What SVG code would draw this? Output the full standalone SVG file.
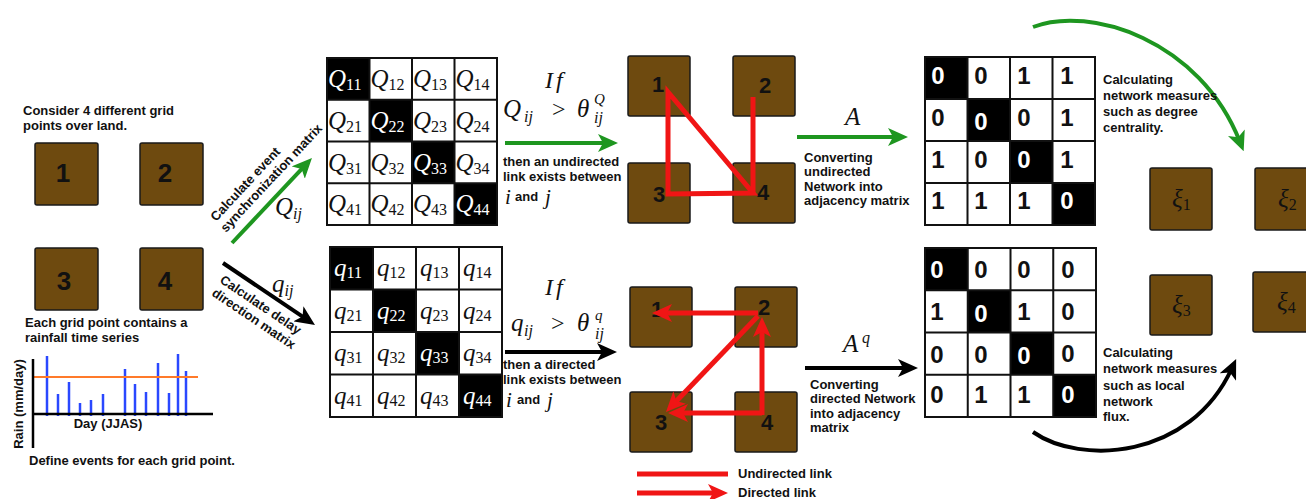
<svg xmlns="http://www.w3.org/2000/svg" width="1306" height="499" viewBox="0 0 1306 499">
<defs>
<style>
.t{font-family:"Liberation Sans",Arial,sans-serif;font-weight:bold;font-size:13px;fill:#111}
.m{font-family:"Liberation Serif","Times New Roman",serif;font-style:italic;fill:#111}
.r{font-family:"Liberation Serif","Times New Roman",serif;fill:#111}
.box{fill:#6E4A0F;stroke:#1a1a1a;stroke-width:1.5}
.num{font-family:"Liberation Sans",Arial,sans-serif;font-weight:bold;fill:#111;text-anchor:middle}
.grid{fill:none;stroke:#111;stroke-width:2}
.dk{fill:#000}
.wt{fill:#fff}
.red{stroke:#F01515;stroke-width:5;fill:none}
.bar{stroke:#2A48FF;stroke-width:2.5}
</style>
<marker id="mg" viewBox="0 0 20 18" refX="10" refY="9" markerWidth="20" markerHeight="18" markerUnits="userSpaceOnUse" orient="auto"><path d="M0,0 L20,9 L0,18 L5,9 Z" fill="#1E9620"/></marker>
<marker id="mk" viewBox="0 0 20 18" refX="10" refY="9" markerWidth="20" markerHeight="18" markerUnits="userSpaceOnUse" orient="auto"><path d="M0,0 L20,9 L0,18 L5,9 Z" fill="#000"/></marker>
<marker id="mr" viewBox="0 0 20 18" refX="10" refY="9" markerWidth="20" markerHeight="18" markerUnits="userSpaceOnUse" orient="auto"><path d="M0,0 L20,9 L0,18 L5,9 Z" fill="#F01515"/></marker>
</defs>
<rect width="1306" height="499" fill="#fff"/>

<!-- Left: grid points -->
<g id="intro">
<text class="t" x="23" y="115">Consider 4 different grid</text>
<text class="t" x="23" y="130">points over land.</text>
</g>
<g id="g1"><rect class="box" x="35" y="143" width="63" height="62" rx="2"/><text class="num" x="63" y="182" font-size="26">1</text></g>
<g id="g2"><rect class="box" x="140" y="143" width="63" height="62" rx="2"/><text class="num" x="165" y="182" font-size="26">2</text></g>
<g id="g3"><rect class="box" x="35" y="248" width="63" height="62" rx="2"/><text class="num" x="64" y="290" font-size="26">3</text></g>
<g id="g4"><rect class="box" x="140" y="248" width="63" height="62" rx="2"/><text class="num" x="165" y="290" font-size="26">4</text></g>

<g id="timeseries">
<text class="t" x="25" y="327">Each grid point contains a</text>
<text class="t" x="25" y="342">rainfall time series</text>
<g class="bar">
<line x1="47" y1="356" x2="47" y2="416"/>
<line x1="58" y1="394" x2="58" y2="416"/>
<line x1="69" y1="382" x2="69" y2="416"/>
<line x1="80" y1="403" x2="80" y2="416"/>
<line x1="91" y1="400" x2="91" y2="416"/>
<line x1="103" y1="394" x2="103" y2="416"/>
<line x1="125" y1="369" x2="125" y2="416"/>
<line x1="135" y1="384" x2="135" y2="416"/>
<line x1="146" y1="392" x2="146" y2="416"/>
<line x1="158" y1="363" x2="158" y2="416"/>
<line x1="169" y1="393" x2="169" y2="416"/>
<line x1="178" y1="354" x2="178" y2="416"/>
<line x1="186" y1="371" x2="186" y2="416"/>
</g>
<line x1="33" y1="377" x2="198" y2="377" stroke="#FF7A2A" stroke-width="2"/>
<line x1="33" y1="359" x2="33" y2="448" stroke="#000" stroke-width="2.5"/>
<line x1="33" y1="414" x2="213" y2="414" stroke="#000" stroke-width="2.5"/>
<text class="t" x="108" y="428" font-size="10.5" text-anchor="middle">Day (JJAS)</text>
<text class="t" font-size="10" text-anchor="middle" transform="translate(23,404) rotate(-90)">Rain (mm/day)</text>
<text class="t" x="29" y="465">Define events for each grid point.</text>
</g>

<!-- Q matrix -->
<g id="Qmatrix">
<rect x="327" y="58" width="170" height="167" fill="#fff"/>
<rect class="dk" x="327" y="58" width="42.5" height="41.75"/>
<rect class="dk" x="369.5" y="99.75" width="42.5" height="41.75"/>
<rect class="dk" x="412" y="141.5" width="42.5" height="41.75"/>
<rect class="dk" x="454.5" y="183.25" width="42.5" height="41.75"/>
<path class="grid" d="M327,58H497V225H327Z M369.5,58V225 M412,58V225 M454.5,58V225 M327,99.75H497 M327,141.5H497 M327,183.25H497"/>
<g font-size="25">
<text class="m wt" x="328" y="87">Q<tspan class="r wt" font-style="normal" font-size="16" dy="3">11</tspan></text>
<text class="m" x="370.5" y="87">Q<tspan class="r" font-style="normal" font-size="16" dy="3">12</tspan></text>
<text class="m" x="413" y="87">Q<tspan class="r" font-style="normal" font-size="16" dy="3">13</tspan></text>
<text class="m" x="455.5" y="87">Q<tspan class="r" font-style="normal" font-size="16" dy="3">14</tspan></text>
<text class="m" x="328" y="128.75">Q<tspan class="r" font-style="normal" font-size="16" dy="3">21</tspan></text>
<text class="m wt" x="370.5" y="128.75">Q<tspan class="r wt" font-style="normal" font-size="16" dy="3">22</tspan></text>
<text class="m" x="413" y="128.75">Q<tspan class="r" font-style="normal" font-size="16" dy="3">23</tspan></text>
<text class="m" x="455.5" y="128.75">Q<tspan class="r" font-style="normal" font-size="16" dy="3">24</tspan></text>
<text class="m" x="328" y="170.5">Q<tspan class="r" font-style="normal" font-size="16" dy="3">31</tspan></text>
<text class="m" x="370.5" y="170.5">Q<tspan class="r" font-style="normal" font-size="16" dy="3">32</tspan></text>
<text class="m wt" x="413" y="170.5">Q<tspan class="r wt" font-style="normal" font-size="16" dy="3">33</tspan></text>
<text class="m" x="455.5" y="170.5">Q<tspan class="r" font-style="normal" font-size="16" dy="3">34</tspan></text>
<text class="m" x="328" y="212.25">Q<tspan class="r" font-style="normal" font-size="16" dy="3">41</tspan></text>
<text class="m" x="370.5" y="212.25">Q<tspan class="r" font-style="normal" font-size="16" dy="3">42</tspan></text>
<text class="m" x="413" y="212.25">Q<tspan class="r" font-style="normal" font-size="16" dy="3">43</tspan></text>
<text class="m wt" x="455.5" y="212.25">Q<tspan class="r wt" font-style="normal" font-size="16" dy="3">44</tspan></text>
</g>
</g>

<!-- q matrix -->
<g id="qmatrix">
<rect x="330" y="247" width="172" height="170" fill="#fff"/>
<rect class="dk" x="330" y="247" width="43" height="42.5"/>
<rect class="dk" x="373" y="289.5" width="43" height="42.5"/>
<rect class="dk" x="416" y="332" width="43" height="42.5"/>
<rect class="dk" x="459" y="374.5" width="43" height="42.5"/>
<path class="grid" d="M330,247H502V417H330Z M373,247V417 M416,247V417 M459,247V417 M330,289.5H502 M330,332H502 M330,374.5H502"/>
<g font-size="25">
<text class="m wt" x="334" y="276">q<tspan class="r wt" font-style="normal" font-size="16" dy="2">11</tspan></text>
<text class="m" x="377" y="276">q<tspan class="r" font-style="normal" font-size="16" dy="2">12</tspan></text>
<text class="m" x="420" y="276">q<tspan class="r" font-style="normal" font-size="16" dy="2">13</tspan></text>
<text class="m" x="463" y="276">q<tspan class="r" font-style="normal" font-size="16" dy="2">14</tspan></text>
<text class="m" x="334" y="318.5">q<tspan class="r" font-style="normal" font-size="16" dy="2">21</tspan></text>
<text class="m wt" x="377" y="318.5">q<tspan class="r wt" font-style="normal" font-size="16" dy="2">22</tspan></text>
<text class="m" x="420" y="318.5">q<tspan class="r" font-style="normal" font-size="16" dy="2">23</tspan></text>
<text class="m" x="463" y="318.5">q<tspan class="r" font-style="normal" font-size="16" dy="2">24</tspan></text>
<text class="m" x="334" y="361">q<tspan class="r" font-style="normal" font-size="16" dy="2">31</tspan></text>
<text class="m" x="377" y="361">q<tspan class="r" font-style="normal" font-size="16" dy="2">32</tspan></text>
<text class="m wt" x="420" y="361">q<tspan class="r wt" font-style="normal" font-size="16" dy="2">33</tspan></text>
<text class="m" x="463" y="361">q<tspan class="r" font-style="normal" font-size="16" dy="2">34</tspan></text>
<text class="m" x="334" y="403.5">q<tspan class="r" font-style="normal" font-size="16" dy="2">41</tspan></text>
<text class="m" x="377" y="403.5">q<tspan class="r" font-style="normal" font-size="16" dy="2">42</tspan></text>
<text class="m" x="420" y="403.5">q<tspan class="r" font-style="normal" font-size="16" dy="2">43</tspan></text>
<text class="m wt" x="463" y="403.5">q<tspan class="r wt" font-style="normal" font-size="16" dy="2">44</tspan></text>
</g>
</g>

<!-- Undirected network -->
<g id="u1"><rect class="box" x="628" y="56" width="62" height="60" rx="2"/><text class="num" x="658" y="92" font-size="22">1</text></g>
<g id="u2"><rect class="box" x="733" y="56" width="62" height="60" rx="2"/><text class="num" x="765" y="93" font-size="22">2</text></g>
<g id="u3"><rect class="box" x="628" y="163" width="62" height="60" rx="2"/><text class="num" x="659" y="202" font-size="22">3</text></g>
<g id="u4"><rect class="box" x="733" y="163" width="62" height="60" rx="2"/><text class="num" x="763" y="200" font-size="22">4</text></g>

<!-- Directed network -->
<g id="d1"><rect class="box" x="630" y="287" width="62" height="60" rx="2"/><text class="num" x="657" y="317" font-size="22">1</text></g>
<g id="d2"><rect class="box" x="735" y="287" width="62" height="60" rx="2"/><text class="num" x="764" y="315" font-size="22">2</text></g>
<g id="d3"><rect class="box" x="630" y="392" width="62" height="60" rx="2"/><text class="num" x="661" y="430" font-size="22">3</text></g>
<g id="d4"><rect class="box" x="735" y="392" width="62" height="60" rx="2"/><text class="num" x="767" y="430" font-size="22">4</text></g>

<!-- Adjacency matrix A -->
<g id="Amatrix">
<rect x="925" y="57" width="170" height="168" fill="#fff"/>
<rect class="dk" x="925" y="57" width="42.5" height="42"/>
<rect class="dk" x="967.5" y="99" width="42.5" height="42"/>
<rect class="dk" x="1010" y="141" width="42.5" height="42"/>
<rect class="dk" x="1052.5" y="183" width="42.5" height="42"/>
<path class="grid" d="M925,57H1095V225H925Z M967.5,57V225 M1010,57V225 M1052.5,57V225 M925,99H1095 M925,141H1095 M925,183H1095"/>
<g font-size="24">
<text class="num wt" x="938" y="84">0</text><text class="num" x="981" y="84">0</text><text class="num" x="1024" y="84">1</text><text class="num" x="1067" y="84">1</text>
<text class="num" x="938" y="126">0</text><text class="num wt" x="981" y="130">0</text><text class="num" x="1024" y="126">0</text><text class="num" x="1067" y="126">1</text>
<text class="num" x="938" y="168">1</text><text class="num" x="981" y="168">0</text><text class="num wt" x="1024" y="168">0</text><text class="num" x="1067" y="168">1</text>
<text class="num" x="938" y="209">1</text><text class="num" x="981" y="209">1</text><text class="num" x="1024" y="209">1</text><text class="num wt" x="1067" y="209">0</text>
</g>
</g>

<!-- Adjacency matrix Aq -->
<g id="Aqmatrix">
<rect x="925" y="248" width="171" height="169" fill="#fff"/>
<rect class="dk" x="925" y="248" width="42.75" height="42.25"/>
<rect class="dk" x="967.75" y="290.25" width="42.75" height="42.25"/>
<rect class="dk" x="1010.5" y="332.5" width="42.75" height="42.25"/>
<rect class="dk" x="1053.25" y="374.75" width="42.75" height="42.25"/>
<path class="grid" d="M925,248H1096V417H925Z M967.75,248V417 M1010.5,248V417 M1053.25,248V417 M925,290.25H1096 M925,332.5H1096 M925,374.75H1096"/>
<g font-size="24">
<text class="num wt" x="937" y="278">0</text><text class="num" x="981" y="278">0</text><text class="num" x="1024" y="278">0</text><text class="num" x="1068" y="278">0</text>
<text class="num" x="937" y="320">1</text><text class="num wt" x="981" y="322">0</text><text class="num" x="1024" y="320">1</text><text class="num" x="1068" y="320">0</text>
<text class="num" x="937" y="363">0</text><text class="num" x="981" y="363">0</text><text class="num wt" x="1024" y="364">0</text><text class="num" x="1068" y="362">0</text>
<text class="num" x="937" y="403">0</text><text class="num" x="981" y="403">1</text><text class="num" x="1024" y="403">1</text><text class="num wt" x="1068" y="403">0</text>
</g>
</g>

<!-- xi nodes -->
<g id="xi1"><rect class="box" x="1150" y="168" width="62" height="62" rx="2"/><text class="m" x="1172" y="207" font-size="25" fill="#2a2a2a">ξ<tspan class="r" font-style="normal" font-size="16" dy="3">1</tspan></text></g>
<g id="xi2"><rect class="box" x="1255" y="168" width="62" height="62" rx="2"/><text class="m" x="1278" y="207" font-size="25" fill="#2a2a2a">ξ<tspan class="r" font-style="normal" font-size="16" dy="3">2</tspan></text></g>
<g id="xi3"><rect class="box" x="1150" y="275" width="62" height="60" rx="2"/><text class="m" x="1172" y="313" font-size="25" fill="#2a2a2a">ξ<tspan class="r" font-style="normal" font-size="16" dy="3">3</tspan></text></g>
<g id="xi4"><rect class="box" x="1253" y="272" width="62" height="60" rx="2"/><text class="m" x="1277" y="310" font-size="25" fill="#2a2a2a">ξ<tspan class="r" font-style="normal" font-size="16" dy="3">4</tspan></text></g>

<!-- Connectors -->
<g id="connectors">
<line x1="232" y1="243" x2="305.1" y2="165.3" stroke="#1E9620" stroke-width="4" marker-end="url(#mg)"/>
<line x1="223" y1="263" x2="306.7" y2="319.4" stroke="#000" stroke-width="4" marker-end="url(#mk)"/>
<line x1="505" y1="143" x2="608" y2="143" stroke="#1E9620" stroke-width="4" marker-end="url(#mg)"/>
<line x1="505" y1="352" x2="607" y2="352" stroke="#000" stroke-width="4" marker-end="url(#mk)"/>
<line x1="797" y1="137" x2="898" y2="137" stroke="#1E9620" stroke-width="4" marker-end="url(#mg)"/>
<line x1="805" y1="368" x2="908" y2="368" stroke="#000" stroke-width="4" marker-end="url(#mk)"/>
<path d="M1033,27 C1090,5 1200,40 1240,142" fill="none" stroke="#1E9620" stroke-width="4" marker-end="url(#mg)"/>
<path d="M1033,432 C1080,465 1190,460 1232,368" fill="none" stroke="#000" stroke-width="4" marker-end="url(#mk)"/>
<path class="red" d="M668,92 L668,194 L753,193 Z"/>
<path class="red" d="M753,97 L753,193"/>
<line class="red" x1="758" y1="313" x2="662" y2="313" marker-end="url(#mr)"/>
<line class="red" x1="762" y1="415" x2="762" y2="327" marker-end="url(#mr)"/>
<line class="red" x1="762" y1="413" x2="678" y2="413" marker-end="url(#mr)"/>
<line class="red" x1="758" y1="316" x2="672.9" y2="404.7" marker-end="url(#mr)"/>
</g>

<!-- arrow labels -->
<g id="labels">
<text class="t" font-size="13.5" transform="translate(216,222) rotate(-47)">Calculate event</text>
<text class="t" font-size="13.5" transform="translate(226,233) rotate(-47)">synchronization matrix</text>
<text class="m" x="275" y="215" font-size="25">Q<tspan font-size="16" dy="4">ij</tspan></text>
<text class="t" font-size="13.5" transform="translate(219,282) rotate(34)">Calculate delay</text>
<text class="t" font-size="13.5" transform="translate(211,295) rotate(34)">direction matrix</text>
<text class="m" x="272" y="292" font-size="25">q<tspan font-size="16" dy="4">ij</tspan></text>

<text class="m" x="545" y="88" font-size="24" letter-spacing="3">If</text>
<text class="m" x="503" y="117" font-size="25">Q</text>
<text class="m" x="524" y="122" font-size="16">ij</text>
<text class="r" x="552" y="117" font-size="24">&gt;</text>
<text class="m" x="577" y="117" font-size="25">θ</text>
<text class="m" x="594" y="104" font-size="15">Q</text>
<text class="m" x="594" y="123" font-size="16">ij</text>
<text class="t" x="503" y="166">then an undirected</text>
<text class="t" x="503" y="181">link exists between</text>
<text class="m" x="505" y="204" font-size="21">i</text>
<text class="t" x="515" y="201">and</text>
<text class="m" x="545" y="204" font-size="21">j</text>

<text class="m" x="545" y="295" font-size="24" letter-spacing="3">If</text>
<text class="m" x="511" y="331" font-size="25">q</text>
<text class="m" x="524" y="336" font-size="16">ij</text>
<text class="r" x="551" y="331" font-size="24">&gt;</text>
<text class="m" x="577" y="331" font-size="25">θ</text>
<text class="m" x="595" y="320" font-size="15">q</text>
<text class="m" x="595" y="339" font-size="16">ij</text>
<text class="t" x="503" y="369">then a directed</text>
<text class="t" x="503" y="384">link exists between</text>
<text class="m" x="506" y="407" font-size="21">i</text>
<text class="t" x="517" y="404">and</text>
<text class="m" x="547" y="407" font-size="21">j</text>

<text class="m" x="845" y="125" font-size="25">A</text>
<text class="t" x="804" y="162">Converting</text>
<text class="t" x="804" y="176">undirected</text>
<text class="t" x="804" y="191">Network into</text>
<text class="t" x="804" y="205">adjacency matrix</text>

<text class="m" x="843" y="352" font-size="25">A</text>
<text class="m" x="862" y="343" font-size="16">q</text>
<text class="t" x="810" y="389">Converting</text>
<text class="t" x="810" y="403">directed Network</text>
<text class="t" x="810" y="418">into adjacency</text>
<text class="t" x="810" y="432">matrix</text>

<text class="t" x="1103" y="84">Calculating</text>
<text class="t" x="1103" y="100">network measures</text>
<text class="t" x="1103" y="116">such as degree</text>
<text class="t" x="1103" y="132">centrality.</text>

<text class="t" x="1103" y="357">Calculating</text>
<text class="t" x="1103" y="373">network measures</text>
<text class="t" x="1103" y="390">such as local</text>
<text class="t" x="1103" y="406">network</text>
<text class="t" x="1103" y="421">flux.</text>
</g>

<!-- Legend -->
<g id="legend">
<line class="red" x1="637" y1="474" x2="728" y2="474"/>
<text class="t" x="738" y="478">Undirected link</text>
<line class="red" x1="637" y1="493" x2="718" y2="493" marker-end="url(#mr)"/>
<text class="t" x="738" y="497">Directed link</text>
</g>
</svg>
